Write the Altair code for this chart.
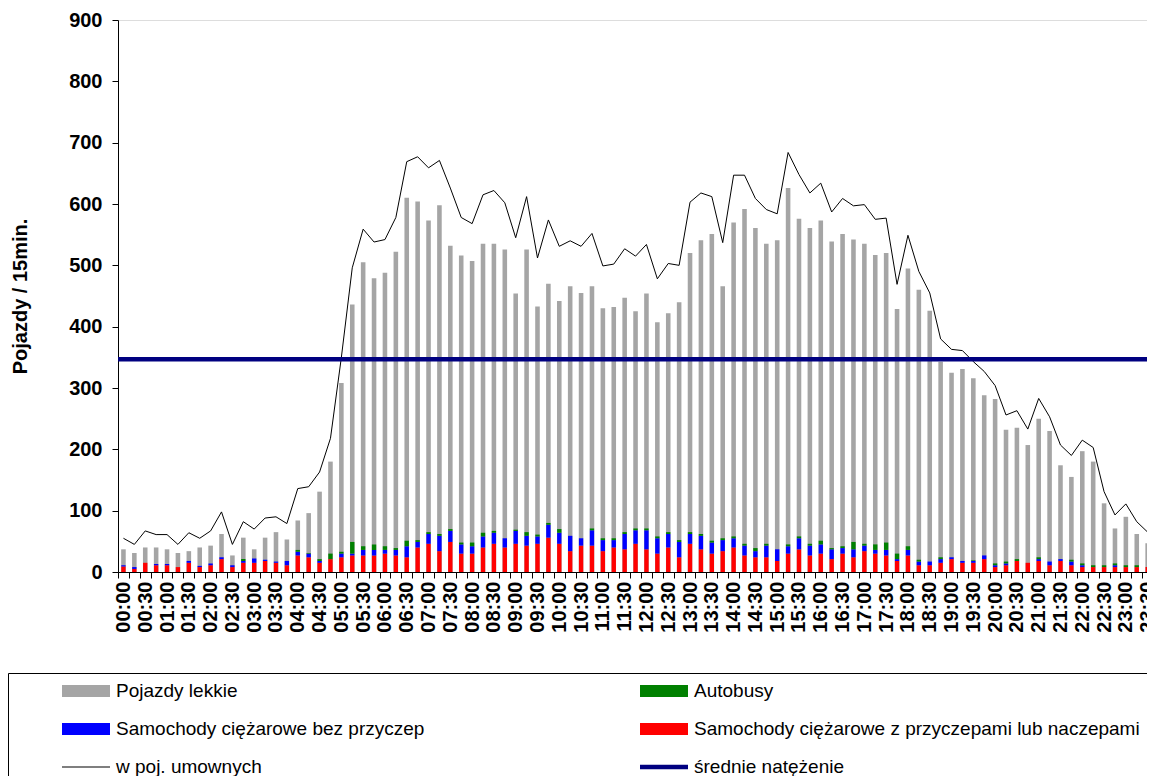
import altair as alt
import pandas as pd

# ---------------- data ----------------
times = [f"{h:02d}:{m:02d}" for h in range(24) for m in (0, 15, 30, 45)]

light = [37, 31, 40, 40, 37, 31, 34, 40, 43, 62, 27, 56, 37, 56, 65, 53, 84, 96, 131, 180,
         308, 436, 505, 479, 488, 522, 610, 604, 573, 598, 532, 516, 507, 535, 535, 526, 454, 526, 433, 470,
         442, 466, 455, 466, 430, 432, 447, 425, 454, 407, 422, 440, 520, 541, 551, 466, 570, 592, 561, 535,
         541, 626, 576, 561, 573, 539, 551, 542, 535, 517, 520, 429, 495, 460, 426, 343, 325, 331, 316, 288,
         282, 232, 235, 207, 250, 230, 174, 155, 197, 180, 112, 71, 90, 62, 47, 45]

pcu = [55, 45, 67, 61, 61, 45, 64, 55, 67, 98, 45, 82, 70, 88, 90, 79, 136, 139, 163, 218,
       350, 496, 559, 538, 542, 578, 669, 677, 659, 671, 626, 578, 568, 615, 622, 602, 545, 612, 512, 574,
       531, 540, 531, 552, 499, 502, 527, 515, 534, 478, 503, 500, 603, 618, 612, 537, 647, 647, 609, 591,
       584, 684, 648, 618, 634, 587, 609, 597, 599, 575, 577, 469, 549, 490, 455, 380, 363, 361, 343, 327,
       304, 256, 263, 233, 283, 253, 207, 190, 215, 203, 131, 93, 111, 82, 65, 72]

trucks_trailer = [9, 5, 15, 11, 11, 8, 15, 8, 11, 21, 8, 15, 15, 18, 15, 11, 27, 24, 15, 21, 24, 27,
                  27, 27, 30, 27, 24, 40, 46, 34, 49, 30, 30, 40, 46, 40, 46, 43, 46, 56, 46, 34, 43, 43,
                  34, 40, 37, 46, 37, 30, 40, 24, 46, 37, 30, 34, 40, 27, 24, 24, 18, 30, 37, 27, 30, 21, 30, 24, 34,
                  30, 27, 18, 27, 11, 11, 15, 21, 15, 15, 21, 8, 11, 18, 15, 18, 11, 18, 11, 8, 8, 8, 8, 8, 8, 8, 8]

trucks = [2, 3, 0, 2, 2, 0, 3, 2, 3, 3, 3, 3, 7, 2, 2, 7, 6, 6, 3, 0, 6, 3,
          9, 9, 6, 9, 18, 9, 16, 25, 18, 15, 12, 18, 18, 15, 21, 16, 12, 21, 18, 25, 12, 25,
          18, 12, 25, 22, 31, 25, 22, 25, 16, 22, 18, 18, 15, 16, 10, 19, 19, 12, 18, 16, 15, 16, 9, 13, 9,
          6, 9, 3, 9, 6, 6, 6, 3, 3, 3, 6, 3, 3, 0, 0, 3, 6, 3, 6, 3, 0, 0, 3, 0, 0, 0, 0]

buses = [0, 0, 0, 0, 0, 0, 0, 0, 0, 0, 0, 3, 0, 0, 0, 0, 3, 1, 3, 9, 3, 19,
         6, 9, 6, 3, 9, 3, 3, 3, 3, 3, 6, 6, 3, 0, 2, 6, 3, 3, 6, 0, 0, 3,
         3, 3, 3, 3, 3, 3, 3, 3, 3, 3, 3, 3, 3, 3, 5, 3, 0, 3, 3, 3, 6, 2, 3, 12, 3,
         9, 12, 9, 6, 3, 0, 3, 0, 0, 1, 0, 3, 3, 3, 0, 3, 0, 0, 3, 3, 3, 3, 3, 3, 3, 0, 0]

mean_flow = [347]

# legend entries, in column order (left column first)
legend_names = ["Pojazdy lekkie",
                "Samochody ciężarowe bez przyczep",
                "w poj. umownych",
                "Autobusy",
                "Samochody ciężarowe z przyczepami lub naczepami",
                "średnie natężenie"]

# ---------------- styles ----------------
GRAY, GREEN, BLUE, RED, BLACK, NAVY = "#A5A5A5", "#008000", "#0000FF", "#FF0000", "#000000", "#000080"
legend_colors = [GRAY, BLUE, BLACK, GREEN, RED, NAVY]
# symbol paths: unit scaled by sqrt(symbolSize)/2 = 10 px
BAR_SYM = "M-2.4,-0.6H2.4V0.6H-2.4Z"
THIN_SYM = "M-2.4,-0.05H2.4V0.05H-2.4Z"
THICK_SYM = "M-2.4,-0.23H2.4V0.23H-2.4Z"
legend_shapes = [BAR_SYM, BAR_SYM, THIN_SYM, BAR_SYM, BAR_SYM, THICK_SYM]

FONT = "Liberation Sans"

df = pd.DataFrame({"time": times, "light": light, "pcu": pcu})

long_rows = []
for t, r, b, g in zip(times, trucks_trailer, trucks, buses):
    long_rows.append({"time": t, "val": r, "ord": 0, "col": RED})
    long_rows.append({"time": t, "val": b, "ord": 1, "col": BLUE})
    long_rows.append({"time": t, "val": g, "ord": 2, "col": GREEN})
df_stack = pd.DataFrame(long_rows)

PLOT_W_FULL = 1046   # full category range (the right end is cut off by the page)
VIEW_W = 1029
PLOT_H = 552

xscale = alt.Scale(domain=times, paddingInner=0, paddingOuter=0, range=[0, PLOT_W_FULL])
yscale = alt.Scale(domain=[0, 900], nice=False)

xaxis = alt.Axis(
    title=None, labelAngle=270, labelFont=FONT, labelFontSize=20, labelFontWeight="bold",
    labelColor="black", labelPadding=3, labelOverlap=False,
    labelExpr="(substring(datum.value,3,5)=='00' || substring(datum.value,3,5)=='30') ? datum.value : ''",
    tickBand="extent", tickSize=6, tickColor="black", domainColor="black", grid=False,
)
yaxis = alt.Axis(
    title="Pojazdy / 15min.", values=list(range(0, 901, 100)),
    titleFont=FONT, titleFontSize=20, titleFontWeight="bold", titleColor="black", titlePadding=38,
    labelFont=FONT, labelFontSize=20, labelFontWeight="bold", labelColor="black", labelPadding=10,
    tickSize=6, tickColor="black", domainColor="black", grid=False,
)

X = alt.X("time:O", scale=xscale, axis=xaxis)

gray_bars = alt.Chart(df).mark_bar(color=GRAY, width=alt.RelativeBandSize(0.42)).encode(
    x=X, y=alt.Y("light:Q", scale=yscale, axis=yaxis)
)

stack_bars = alt.Chart(df_stack).mark_bar(width=alt.RelativeBandSize(0.40)).encode(
    x=X,
    y=alt.Y("val:Q", stack="zero", scale=yscale, axis=yaxis),
    color=alt.Color("col:N", scale=None),
    order=alt.Order("ord:Q"),
)

line = alt.Chart(df).mark_line(color=BLACK, strokeWidth=1).encode(
    x=X, y=alt.Y("pcu:Q", scale=yscale, axis=yaxis)
)

mean_rule = alt.Chart(pd.DataFrame({"m": mean_flow})).mark_rule(color=NAVY, strokeWidth=4.5).encode(
    y=alt.Y("m:Q", scale=yscale, axis=yaxis)
)

leg = alt.Legend(
    title="\u00a0", titleOrient="right", titlePadding=30,
    orient="none", legendX=-110, legendY=653, columns=2, direction="vertical",
    symbolSize=400, symbolStrokeWidth=0, symbolOffset=60, labelOffset=20,
    labelFont=FONT, labelFontSize=19, labelColor="black", labelLimit=800,
    rowPadding=18, columnPadding=169, padding=8, strokeColor="#000000",
)

legend_layer = alt.Chart(pd.DataFrame({"name": legend_names})).transform_filter("false").mark_point(
    filled=True, opacity=1, strokeWidth=0
).encode(
    color=alt.Color("name:N", scale=alt.Scale(domain=legend_names, range=legend_colors), legend=leg),
    shape=alt.Shape("name:N", scale=alt.Scale(domain=legend_names, range=legend_shapes), legend=leg),
)

chart = alt.layer(gray_bars, stack_bars, line, mean_rule, legend_layer).properties(
    width=VIEW_W, height=PLOT_H,
    autosize=alt.AutoSizeParams(type="none"),
    padding={"left": 110, "top": 12, "right": 0, "bottom": 224},
).configure_view(stroke=None).configure(font=FONT)

chart.save("out.html", embed_options={"renderer": "svg", "actions": False})
